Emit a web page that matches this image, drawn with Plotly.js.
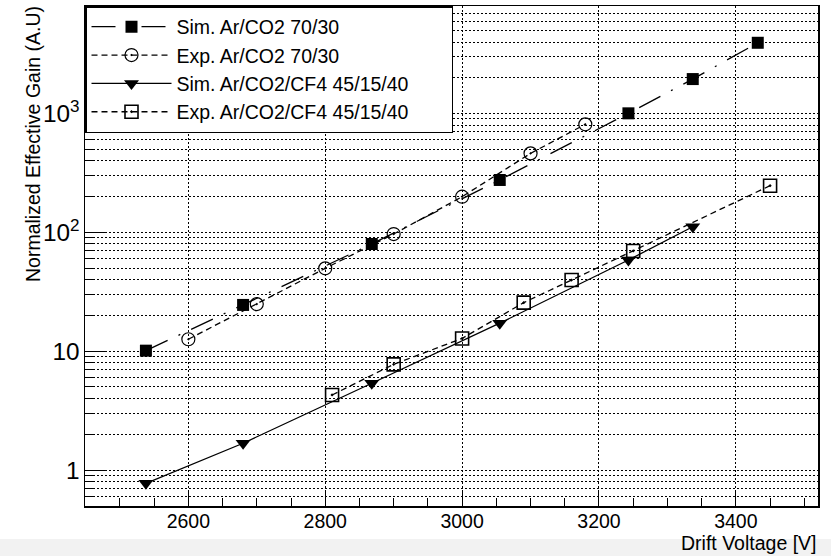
<!DOCTYPE html>
<html>
<head>
<meta charset="utf-8">
<script src="https://cdn.plot.ly/plotly-3.0.1.min.js"></script>
<style>html,body{margin:0;padding:0;background:#fff;}#chart{width:831px;height:556px;}</style>
</head>
<body>
<div id="chart"></div>
<script>
// Data
const simCO2_V   = [2538, 2680, 2868, 3055, 3243, 3337, 3432];
const simCO2_G   = [10.1, 24.5, 79.8, 276, 1004, 1950, 3940];

const expCO2_V   = [2600, 2700, 2800, 2900, 3000, 3100, 3180];
const expCO2_G   = [12.6, 24.9, 49.8, 96.8, 199.5, 462, 811];

const simCF4_V   = [2538, 2680, 2868, 3055, 3243, 3337];
const simCF4_G   = [0.773, 1.68, 5.37, 17.2, 58.5, 111.5];

const expCF4_V   = [2810, 2900, 3000, 3090, 3160, 3250, 3450];
const expCF4_G   = [4.28, 7.75, 12.8, 25.6, 39.7, 69.7, 247];

const seriesNames = [
  "Sim. Ar/CO2 70/30",
  "Exp. Ar/CO2 70/30",
  "Sim. Ar/CO2/CF4 45/15/40",
  "Exp. Ar/CO2/CF4 45/15/40"
];

const FONT = "Liberation Sans, Arial, Helvetica, sans-serif";
const FS = 19.5;
const PAD = "\u00a0\u00a0\u00a0\u00a0\u00a0\u00a0\u00a0"; // widens the legend box like the reference

const traces = [
  {
    x: simCO2_V, y: simCO2_G, name: seriesNames[0], legendgroup: "a",
    mode: "lines+markers", type: "scatter",
    line: {color: "#000", width: 1.3, dash: "24px,12px,2px,12px"},
    marker: {symbol: "square", size: 12, color: "#000"}
  },
  {
    x: expCO2_V, y: expCO2_G, name: seriesNames[1], legendgroup: "b",
    mode: "lines+markers", type: "scatter",
    line: {color: "#000", width: 1.3, dash: "6px,4px"},
    marker: {symbol: "circle-open-dot", size: 13, color: "#000", line: {width: 1.2, color: "#000"}}
  },
  {
    x: simCF4_V, y: simCF4_G, name: seriesNames[2], legendgroup: "c",
    mode: "lines+markers", type: "scatter",
    line: {color: "#000", width: 1.3},
    marker: {symbol: "triangle-down", size: 13, color: "#000"}
  },
  {
    x: expCF4_V, y: expCF4_G, name: seriesNames[3] + PAD, legendgroup: "d",
    mode: "lines+markers", type: "scatter",
    line: {color: "#000", width: 1.3, dash: "6px,4px"},
    marker: {symbol: "square-open-dot", size: 13, color: "#000", line: {width: 1.6, color: "#000"}}
  }
];

const layout = {
  width: 831, height: 556,
  margin: {l: 85, r: 13, t: 6, b: 50, pad: 0},
  paper_bgcolor: "#fff", plot_bgcolor: "#fff",
  font: {family: FONT, size: FS, color: "#000"},
  showlegend: true,
  legend: {
    x: 0, y: 1, xanchor: "left", yanchor: "top",
    bgcolor: "#fff", bordercolor: "#000", borderwidth: 1.5,
    font: {family: FONT, size: FS, color: "#000"},
    itemwidth: 80, tracegroupgap: 0, traceorder: "grouped"
  },
  xaxis: {
    range: [2449, 3520],
    tick0: 2600, dtick: 200,
    ticks: "inside", ticklen: 14, tickwidth: 1, tickcolor: "#000",
    ticklabelstandoff: -3,
    showline: true, linecolor: "#000", linewidth: 1.5, mirror: true,
    showgrid: true, gridcolor: "#000", gridwidth: 1, griddash: "2px,2px",
    zeroline: false,
    tickfont: {family: FONT, size: FS, color: "#000"},
    minor: {dtick: 50, tick0: 2600, ticks: "inside", ticklen: 8, tickcolor: "#000", showgrid: false}
  },
  yaxis: {
    type: "log",
    range: [-0.303, 3.905],
    dtick: 1, exponentformat: "power",
    ticks: "inside", ticklen: 22, tickwidth: 1, tickcolor: "#000",
    showline: true, linecolor: "#000", linewidth: 1.5, mirror: true,
    showgrid: true, gridcolor: "#000", gridwidth: 1, griddash: "2px,2px",
    zeroline: false,
    tickfont: {family: FONT, size: FS, color: "#000"},
    minor: {dtick: "D1", ticks: "inside", ticklen: 10, tickcolor: "#000",
            showgrid: true, gridcolor: "#000", gridwidth: 1, griddash: "2px,2px"}
  },
  annotations: [
    {
      text: "Drift Voltage [V]", xref: "paper", yref: "paper",
      x: 1, y: 0, xanchor: "right", yanchor: "top", yshift: -24,
      showarrow: false, font: {family: FONT, size: FS, color: "#000"}
    },
    {
      text: "Normalized Effective Gain (A.U)", xref: "paper", yref: "paper",
      x: 0, y: 1, xanchor: "center", yanchor: "top", xshift: -52, yshift: 2,
      textangle: -90, showarrow: false, font: {family: FONT, size: FS, color: "#000"}
    }
  ],
  shapes: [
    {type: "rect", xref: "paper", yref: "paper", layer: "below",
     x0: -0.2, x1: 1.1, y0: -0.1, y1: -0.066,
     fillcolor: "#f2f2f2", line: {width: 0}}
  ]
};

Plotly.newPlot("chart", traces, layout, {displayModeBar: false, staticPlot: true});
</script>
</body>
</html>
